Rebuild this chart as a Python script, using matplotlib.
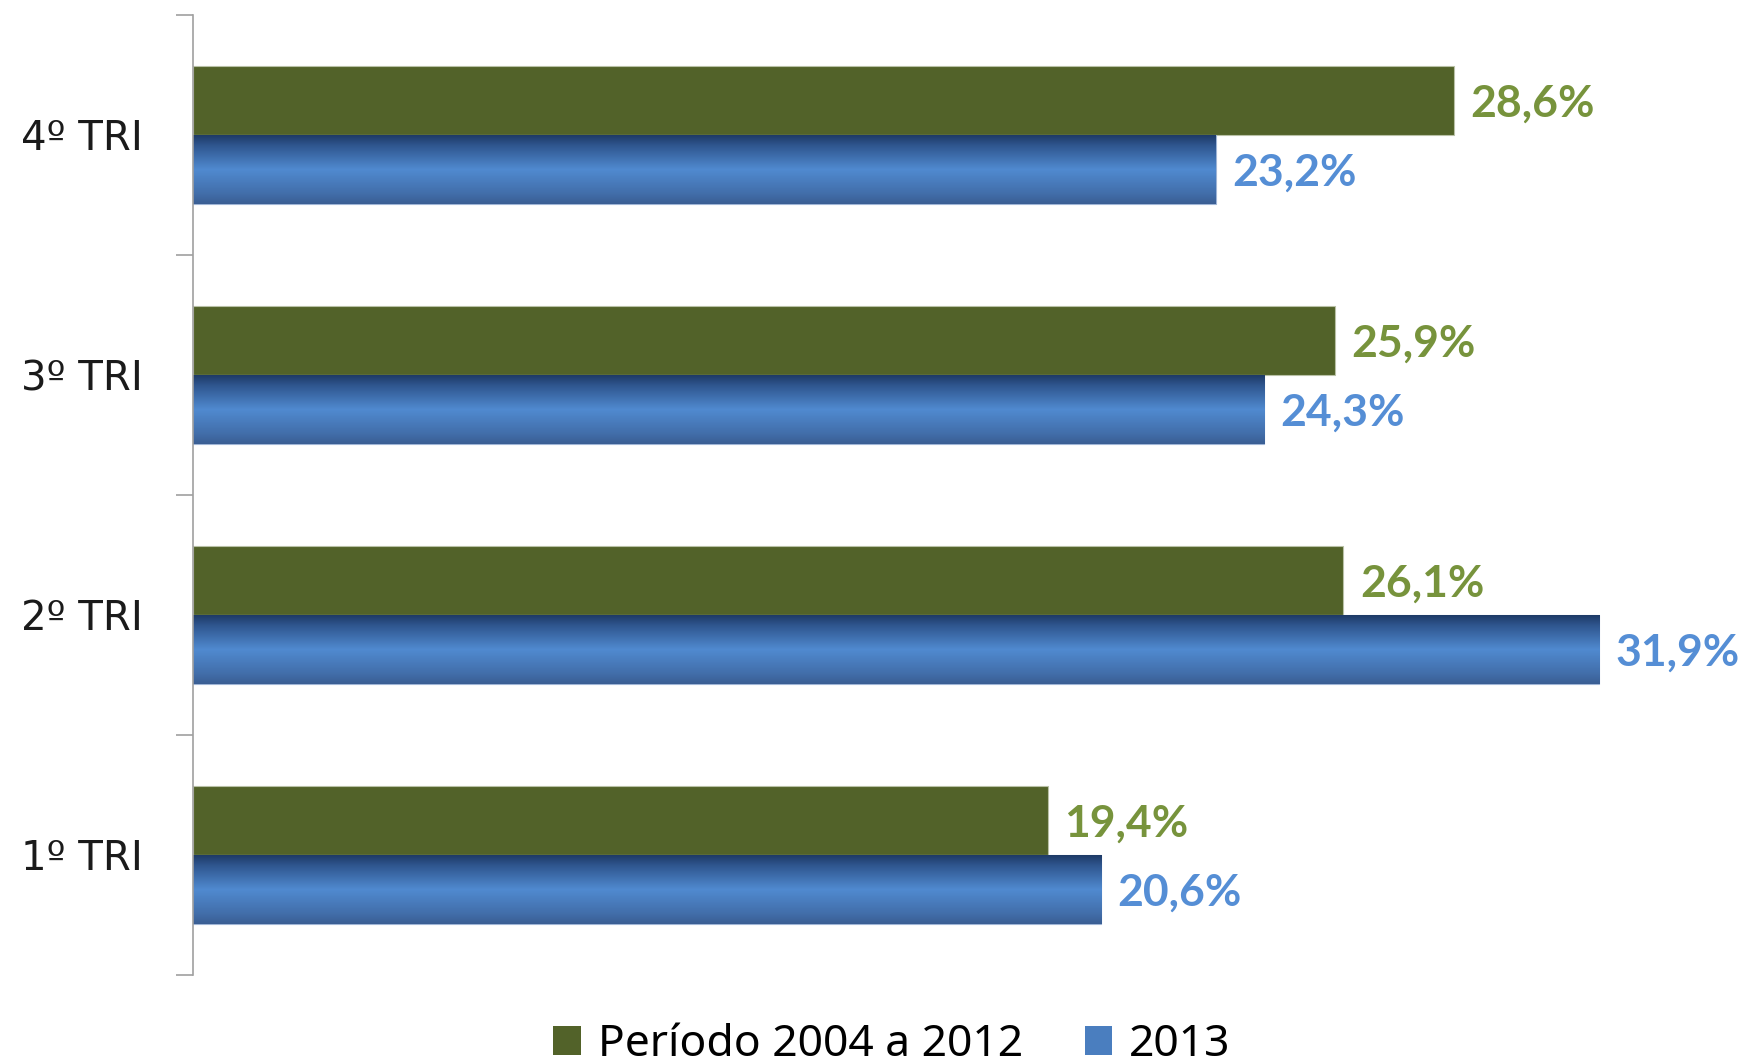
import numpy as np
import matplotlib
matplotlib.use("Agg")
import matplotlib.pyplot as plt
from matplotlib.patches import Patch

categories = ["1º TRI", "2º TRI", "3º TRI", "4º TRI"]
periodo = [19.4, 26.1, 25.9, 28.6]
ano2013 = [20.6, 31.9, 24.3, 23.2]
labels_periodo = ["19,4%", "26,1%", "25,9%", "28,6%"]
labels_2013 = ["20,6%", "31,9%", "24,3%", "23,2%"]
series_names = ["Período 2004 a 2012", "2013"]

plt.rcParams['font.family'] = ['Lato', 'DejaVu Sans']

W, H = 1750, 1064
fig = plt.figure(figsize=(W / 100, H / 100), dpi=100)
left_px, right_px, top_px, bot_px = 193, 1700, 15, 975
ax = fig.add_axes([left_px / W, 1 - bot_px / H, (right_px - left_px) / W, (bot_px - top_px) / H])

green = "#526229"
green_lbl = "#77933C"
blue_lbl = "#558ED5"
h = 0.2875
y = np.arange(len(categories))

gb = ax.barh(y + h / 2, periodo, height=h, color=green, edgecolor="#B9C1A6", linewidth=0.8, zorder=2)
bb = ax.barh(y - h / 2, ano2013, height=h, color="#4A7EBF", edgecolor="#9FB5D6", linewidth=0.8, zorder=2)

# vertical gradient for the blue bars
stops_pos = [0.0, 0.15, 0.5, 0.85, 1.0]
stops_col = [(0x1E, 0x3A, 0x66), (0x2F, 0x56, 0x8F), (0x50, 0x8A, 0xD0), (0x42, 0x6E, 0xAA), (0x3A, 0x5E, 0x93)]
t = np.linspace(0, 1, 256)
grad = np.zeros((256, 1, 3))
for c in range(3):
    grad[:, 0, c] = np.interp(t, stops_pos, [s[c] / 255 for s in stops_col])
for p in bb.patches:
    x0, y0, w, hh = p.get_x(), p.get_y(), p.get_width(), p.get_height()
    im = ax.imshow(grad, extent=[x0, x0 + w, y0, y0 + hh], origin="upper", aspect="auto", zorder=2.5,
                   interpolation="bilinear")
    im.set_clip_path(p)

dy = 0.012
for p, lab in zip(gb.patches, labels_periodo):
    ax.text(p.get_width() + 0.37, p.get_y() + p.get_height() / 2 - dy, lab, color=green_lbl,
            fontsize=32, fontweight="bold", va="center", ha="left", zorder=3)
for p, lab in zip(bb.patches, labels_2013):
    ax.text(p.get_width() + 0.37, p.get_y() + p.get_height() / 2 - dy, lab, color=blue_lbl,
            fontsize=32, fontweight="bold", va="center", ha="left", zorder=3)

ax.set_xlim(0, (right_px - left_px) / 44.08)
ax.set_ylim(-0.5, len(categories) - 0.5)

ax.set_yticks(y)
ax.set_yticklabels(categories, fontsize=29, color="#1a1a1a", family=["DejaVu Sans"])
ax.tick_params(axis="y", which="major", length=0, pad=36)
ax.set_yticks(np.arange(-0.5, len(categories), 1.0), minor=True)
ax.tick_params(axis="y", which="minor", length=12, width=1.2, color="#A0A0A0")
ax.set_xticks([])

for s in ["top", "right", "bottom"]:
    ax.spines[s].set_visible(False)
ax.spines["left"].set_color("#A0A0A0")
ax.spines["left"].set_linewidth(1.2)

handles = [Patch(facecolor=green, edgecolor="none"), Patch(facecolor="#4A7EBF", edgecolor="none")]
fig.legend(handles, series_names, loc="center", bbox_to_anchor=(892 / W, 1 - 1045 / H), ncol=2,
           frameon=False, prop={"family": ["Noto Sans", "DejaVu Sans"], "size": 32},
           handlelength=0.62, handleheight=0.62, handletextpad=0.38,
           columnspacing=1.4, borderpad=0)

fig.savefig("out.png", dpi=100)
